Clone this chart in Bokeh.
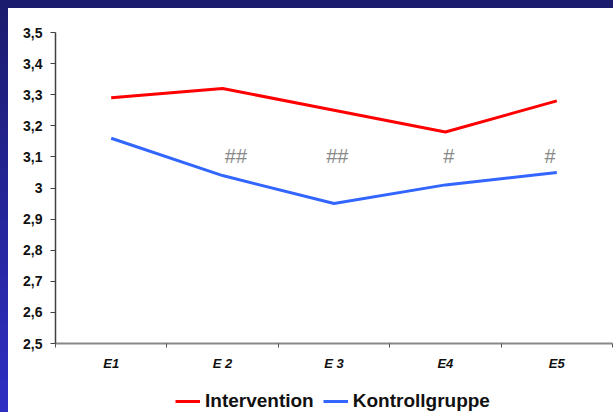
from bokeh.plotting import figure
from bokeh.layouts import column
from bokeh.models import FixedTicker, Legend, LegendItem, ColumnDataSource
from bokeh.core.properties import value
from bokeh.embed import file_html
from bokeh.resources import INLINE

categories = ["E1", "E 2", "E 3", "E4", "E5"]
intervention = [3.29, 3.32, 3.25, 3.18, 3.28]
kontroll = [3.16, 3.04, 2.95, 3.01, 3.05]
series_names = ["Intervention", "Kontrollgruppe"]
series_colors = ["#ff0000", "#3366ff"]
marks = ["##", "##", "#", "#"]
mark_x = [2.12, 3.03, 4.03, 4.94]
mark_level = 3.104
y_ticks = [2.5, 2.6, 2.7, 2.8, 2.9, 3.0, 3.1, 3.2, 3.3, 3.4, 3.5]
y_labels = ["2,5", "2,6", "2,7", "2,8", "2,9", "3", "3,1", "3,2", "3,3", "3,4", "3,5"]

xs = list(range(1, len(categories) + 1))
series_values = [intervention, kontroll]

p = figure(width=605, height=369, output_backend="svg", toolbar_location=None,
           x_range=(0.5, len(categories) + 0.5), y_range=(2.5, 3.5),
           min_border_left=47, min_border_top=24, min_border_right=1, min_border_bottom=34)
p.outline_line_color = None
p.xgrid.visible = False
p.ygrid.visible = False
p.background_fill_color = "white"
p.border_fill_color = "white"

for vals, col in zip(series_values, series_colors):
    p.line(xs, vals, line_color=col, line_width=3)

src = ColumnDataSource(dict(x=mark_x, y=[mark_level] * len(marks), t=marks))
p.text(x="x", y="y", text="t", source=src, text_align="center", text_baseline="middle",
       text_font=value("Liberation Sans"), text_font_size="20px", text_color="#888888")

# y axis
ya = p.yaxis[0]
ya.ticker = FixedTicker(ticks=y_ticks)
ya.major_label_overrides = {t: l for t, l in zip(y_ticks, y_labels)}
ya.axis_line_color = "#404040"
ya.axis_line_width = 1.5
ya.major_tick_line_color = "#404040"
ya.major_tick_out = 5
ya.major_tick_in = 0
ya.minor_tick_line_color = None
ya.major_label_text_font = "Liberation Sans"
ya.major_label_text_font_style = "bold"
ya.major_label_text_font_size = "14px"
ya.major_label_text_color = "#111111"
ya.major_label_standoff = 8

# x axis
xa = p.xaxis[0]
xa.ticker = FixedTicker(ticks=xs, minor_ticks=[x - 0.5 for x in xs] + [xs[-1] + 0.5])
xa.major_label_overrides = {x: c for x, c in zip(xs, categories)}
xa.axis_line_color = "#888888"
xa.axis_line_width = 2
xa.major_tick_line_color = None
xa.minor_tick_line_color = "#555555"
xa.minor_tick_out = 4
xa.minor_tick_in = 0
xa.major_label_text_font = "Liberation Sans"
xa.major_label_text_font_style = "bold italic"
xa.major_label_text_font_size = "13px"
xa.major_label_text_color = "#111111"
xa.major_label_standoff = 6

# legend strip below the chart (series drawn outside its visible range, only the key shows)
p2 = figure(width=605, height=35, output_backend="svg", toolbar_location=None,
            x_axis_type=None, y_axis_type=None, x_range=(-10, -9), y_range=(-10, -9),
            min_border_left=47, min_border_right=1, min_border_top=0, min_border_bottom=0)
p2.outline_line_color = None
p2.xgrid.visible = False
p2.ygrid.visible = False
p2.background_fill_color = "white"
p2.border_fill_color = "white"
items = []
for name, vals, col in zip(series_names, series_values, series_colors):
    r = p2.line(xs, vals, line_color=col, line_width=3)
    items.append(LegendItem(label=name, renderers=[r]))
legend = Legend(items=items, orientation="horizontal", location=(120, 0),
                label_text_font="Liberation Sans", label_text_font_style="bold",
                label_text_font_size="19px", label_text_color="#111111",
                border_line_color=None, background_fill_alpha=0,
                glyph_width=25, glyph_height=20, label_standoff=5, spacing=9,
                padding=2, margin=0)
p2.add_layout(legend, "center")

layout = column(p, p2, spacing=0)

css = ("<style>html{background:linear-gradient(#1c1c6e,#2e2ec4) !important;height:100%;overflow:hidden;}"
       "body{margin:8px 0 0 8px !important;padding:0 !important;background:#ffffff !important;"
       "height:calc(100% - 8px) !important;overflow:hidden;}</style>")
html = file_html(layout, INLINE)
html = html.replace("</head>", css + "</head>", 1)
open("out.html", "w").write(html)
